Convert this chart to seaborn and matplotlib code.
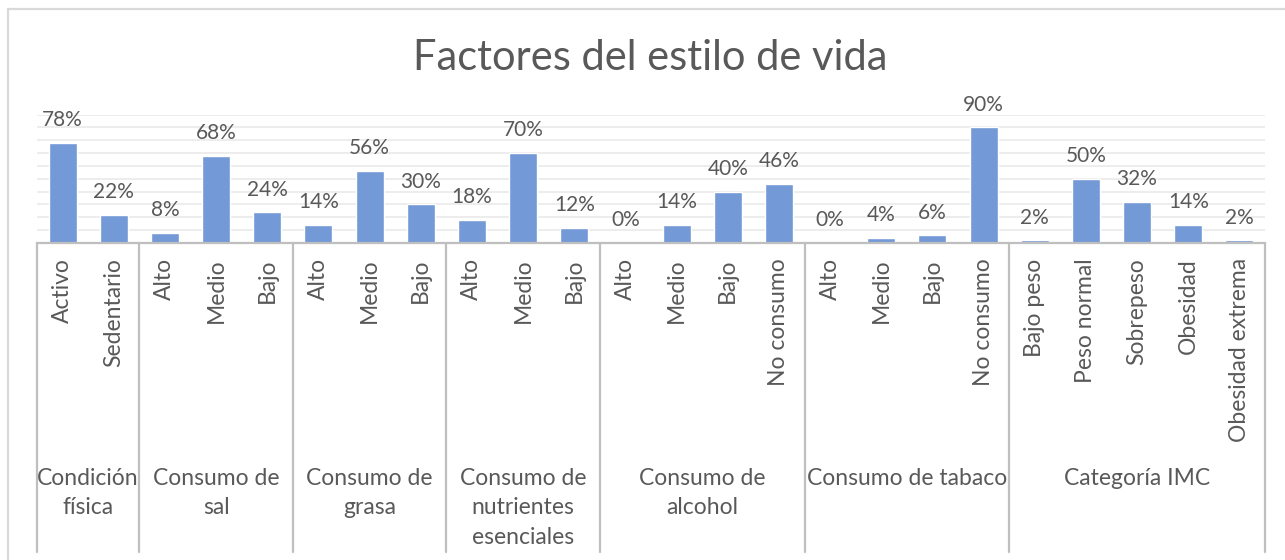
import numpy as np
import pandas as pd
import matplotlib
matplotlib.use("Agg")
import matplotlib.pyplot as plt
from matplotlib.lines import Line2D
import seaborn as sns

# Data (percent)
groups = ["Condición\nfísica", "Consumo de\nsal", "Consumo de\ngrasa",
          "Consumo de\nnutrientes\nesenciales", "Consumo de\nalcohol",
          "Consumo de tabaco", "Categoría IMC"]
group_items = [
    ["Activo", "Sedentario"],
    ["Alto", "Medio", "Bajo"],
    ["Alto", "Medio", "Bajo"],
    ["Alto", "Medio", "Bajo"],
    ["Alto", "Medio", "Bajo", "No consumo"],
    ["Alto", "Medio", "Bajo", "No consumo"],
    ["Bajo peso", "Peso normal", "Sobrepeso", "Obesidad", "Obesidad extrema"],
]
group_values = [
    [78, 22],
    [8, 68, 24],
    [14, 56, 30],
    [18, 70, 12],
    [0, 14, 40, 46],
    [0, 4, 6, 90],
    [2, 50, 32, 14, 2],
]

rows = []
for g, items, vals in zip(groups, group_items, group_values):
    for it, v in zip(items, vals):
        rows.append({"group": g, "item": it, "value": v / 100})
df = pd.DataFrame(rows)
df["pos"] = np.arange(len(df))

sns.set_theme(style="white")
plt.rcParams["font.family"] = ["Lato", "DejaVu Sans"]
text_color = "#595959"
bar_color = "#7399D6"
grid_color = "#ececec"
axis_color = "#bfbfbf"

fig = plt.figure(figsize=(12.85, 5.6), dpi=100)
ax = fig.add_axes([37 / 1285, 1 - 243 / 560, 1228 / 1285, 128.4 / 560])

sns.barplot(data=df, x="pos", y="value", color=bar_color, width=0.55,
            saturation=1, ax=ax)

ax.set_xlim(-0.5, len(df) - 0.5)
ax.set_ylim(0, 1)
ax.set_yticks(np.arange(0.1, 1.01, 0.1))
ax.yaxis.grid(True, color=grid_color, linewidth=1.3)
ax.set_axisbelow(True)
ax.tick_params(axis="y", length=0, labelleft=False)
ax.set_ylabel("")
ax.set_xlabel("")
for s in ["top", "right", "left"]:
    ax.spines[s].set_visible(False)
ax.spines["bottom"].set_color(axis_color)
ax.spines["bottom"].set_linewidth(1.6)

ax.set_xticks(df["pos"])
ax.set_xticklabels(df["item"], rotation=90, fontsize=16.5, color=text_color)
ax.tick_params(axis="x", length=0, pad=11)

# value labels
for p, v in zip(df["pos"], df["value"]):
    ax.annotate(f"{round(v * 100)}%", (p, v), xytext=(0, 12),
                textcoords="offset points", ha="center", va="baseline",
                fontsize=15, color=text_color)

# group separators and labels
trans = ax.get_xaxis_transform()
bottom_y = -(552 - 243) / 128.4
label_y = -(468 - 243) / 128.4
start = 0
edges = [-0.5]
for g, items in zip(groups, group_items):
    end = start + len(items)
    edges.append(end - 0.5)
    ax.text((start + end - 1) / 2, label_y, g, transform=trans, ha="center",
            va="top", fontsize=16.5, color=text_color, linespacing=1.5)
    start = end
for e in edges:
    ax.plot([e, e], [0, bottom_y], transform=trans, color=axis_color,
            linewidth=1.6, clip_on=False)

fig.text(650 / 1285, 1 - 58 / 560, "Factores del estilo de vida", ha="center",
         va="center", fontsize=30, color=text_color)

# chart frame (left and top edges visible)
frame = dict(color="#d9d9d9", linewidth=1.6)
fig.add_artist(Line2D([8 / 1285, 8 / 1285], [0, 1 - 9 / 560], **frame))
fig.add_artist(Line2D([8 / 1285, 1], [1 - 9 / 560, 1 - 9 / 560], **frame))

fig.savefig("out.png", dpi=100, facecolor="white")
